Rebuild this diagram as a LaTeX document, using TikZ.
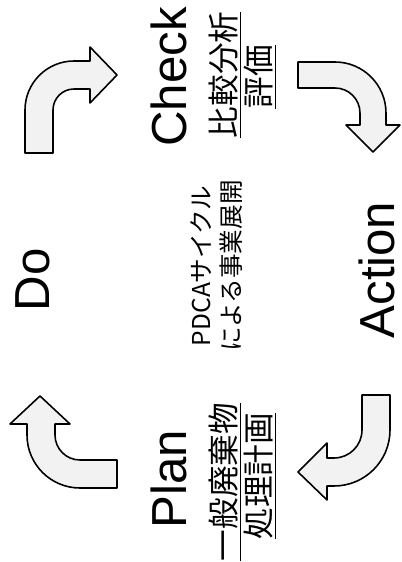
\documentclass[tikz,border=0pt]{standalone}
\usepackage{fontspec}
\setmainfont{Liberation Sans}
\newfontfamily\jpfont{Noto Sans CJK JP}
\usetikzlibrary{positioning}

\begin{document}
\begin{tikzpicture}[x=0.02cm,y=0.02cm,
  bigword/.style={rotate=90,inner sep=0pt,font=\fontsize{28}{30}\selectfont},
  jpword/.style={rotate=90,inner sep=0pt,font=\jpfont\fontsize{18}{20}\selectfont},
  midword/.style={rotate=90,inner sep=0pt,font=\jpfont\fontsize{14}{16}\selectfont},
  bentarrow/.style={draw=black,line width=0.9pt,fill=gray!10,line join=round}]

\useasboundingbox (0,0) rectangle (402,562);

% Do -> Check
\draw[bentarrow] (25,409)--(25,452) arc[start angle=180,end angle=90,radius=49]
--(90,501)--(90,515)--(117,487)--(90,459)--(90,473)--(74,473)
arc[start angle=90,end angle=180,radius=21]--(53,409)--cycle;

% Check -> Action
\draw[bentarrow] (298,500)--(335,500) arc[start angle=90,end angle=0,radius=51]
--(386,437)--(400,437)--(373,410)--(346,437)--(360,437)--(360,449)
arc[start angle=0,end angle=90,radius=25]--(298,474)--cycle;

% Action -> Plan
\draw[bentarrow] (390,167)--(390,132) arc[start angle=0,end angle=-90,radius=56]
--(327,76)--(327,62)--(298,90)--(327,119)--(327,104)--(334,104)
arc[start angle=-90,end angle=0,radius=28]--(362,167)--cycle;

% Plan -> Do
\draw[bentarrow] (117,74)--(80,74) arc[start angle=-90,end angle=-180,radius=53]
--(27,138)--(10,138)--(40,166)--(70,138)--(55,138)--(55,127)
arc[start angle=180,end angle=270,radius=25]--(117,102)--cycle;


\node[bigword] (check) at (169,485) {Check};
\node[jpword] (checkA) at (225,487) {\underline{比較分析}};
\node[jpword] (checkB) at (260,485) {\underline{評価}};

\node[bigword] (do) at (33,282) {Do};

\node[bigword] (action) at (377,292) {Action};

\node[bigword] (plan) at (169,83) {Plan};
\node[jpword] (planA) at (225,80) {\underline{一般廃棄物}};
\node[jpword] (planB) at (260,86) {\underline{処理計画}};

\node[midword] (title) at (201,296) {PDCAサイクル};
\node[midword] (titleB) at (231,296) {による事業展開};

\end{tikzpicture}
\end{document}
